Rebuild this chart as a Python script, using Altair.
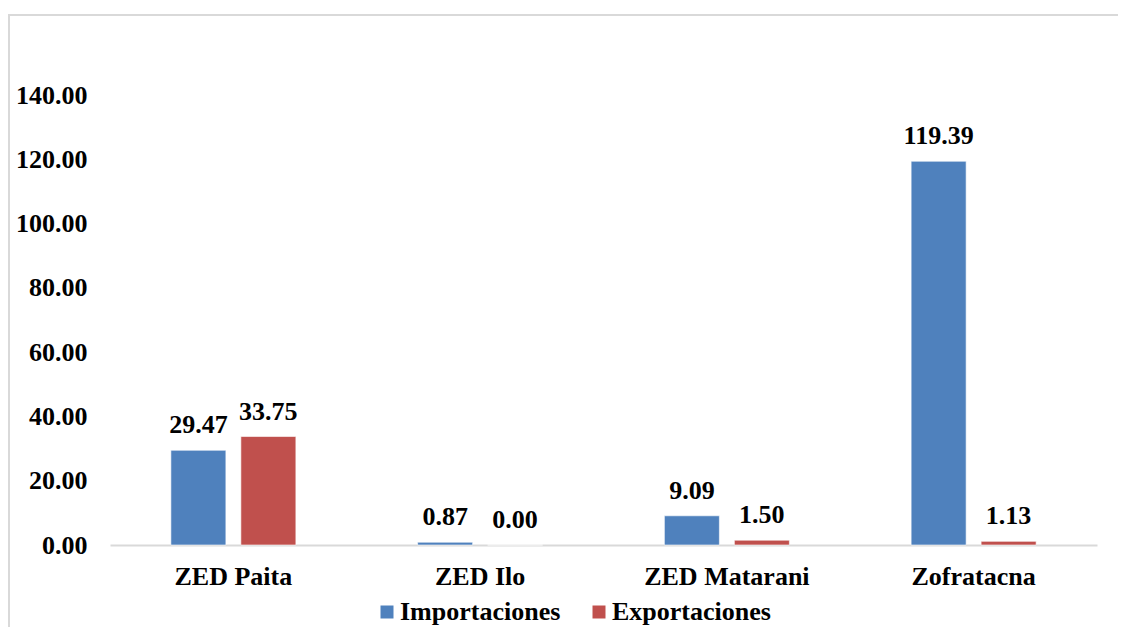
import altair as alt
import pandas as pd

categories = ["ZED Paita", "ZED Ilo", "ZED Matarani", "Zofratacna"]
importaciones = [29.47, 0.87, 9.09, 119.39]
exportaciones = [33.75, 0.00, 1.50, 1.13]
series = ["Importaciones", "Exportaciones"]
colors = ["#4F81BD", "#C0504D"]
y_ticks = [0, 20, 40, 60, 80, 100, 120, 140]

rows = []
for c, i, e in zip(categories, importaciones, exportaciones):
    rows.append({"zona": c, "serie": series[0], "valor": i})
    rows.append({"zona": c, "serie": series[1], "valor": e})
df = pd.DataFrame(rows)

FONT = "Liberation Serif"
FS = 26

x = alt.X(
    "zona:N", sort=categories,
    scale=alt.Scale(paddingInner=0.4934, paddingOuter=0.2467),
    axis=alt.Axis(title=None, labelAngle=0, labelFont=FONT, labelFontSize=FS,
                  labelFontWeight="bold", labelColor="black", ticks=False,
                  domainColor="#d9d9d9", domainWidth=2, labelPadding=18),
)
xo = alt.XOffset("serie:N", sort=series,
                 scale=alt.Scale(paddingInner=0.214, paddingOuter=0))
y = alt.Y(
    "valor:Q",
    scale=alt.Scale(domain=[0, 140], nice=False),
    axis=alt.Axis(values=y_ticks, format=".2f", title=None, grid=False,
                  domain=False, ticks=False, labelFont=FONT, labelFontSize=FS,
                  labelFontWeight="bold", labelColor="black", labelPadding=23),
)
color = alt.Color(
    "serie:N", sort=series,
    scale=alt.Scale(domain=series, range=colors),
    legend=alt.Legend(title=None, orient="none", legendX=264, legendY=504,
                      direction="horizontal", symbolType="square", symbolSize=169,
                      symbolStrokeWidth=0, labelFont=FONT, labelFontSize=FS,
                      labelFontWeight="bold", labelColor="black", labelOffset=0,
                      labelLimit=400, columnPadding=25),
)

base = alt.Chart(df)
bars = base.mark_bar(stroke="white", strokeWidth=0.6).encode(x=x, xOffset=xo, y=y, color=color)
labels = base.mark_text(dy=-17, baseline="alphabetic", font=FONT, fontSize=FS,
                        fontWeight="bold", color="black").encode(
    x=x, xOffset=xo, y=y, text=alt.Text("valor:Q", format=".2f"))

frame = alt.Chart(pd.DataFrame({"a": [0]})).mark_rect(
    fillOpacity=0, stroke="#d9d9d9", strokeWidth=2).encode(
    x=alt.value(-101), x2=alt.value(1300), y=alt.value(-80), y2=alt.value(800))

chart = alt.layer(frame, bars, labels).properties(
    width=987, height=450,
    autosize=alt.AutoSizeParams(type="none"),
    padding={"left": 102, "top": 87, "right": 21, "bottom": 82},
).configure_view(stroke=None)

chart.save("out.html", embed_options={"renderer": "svg", "actions": False})
